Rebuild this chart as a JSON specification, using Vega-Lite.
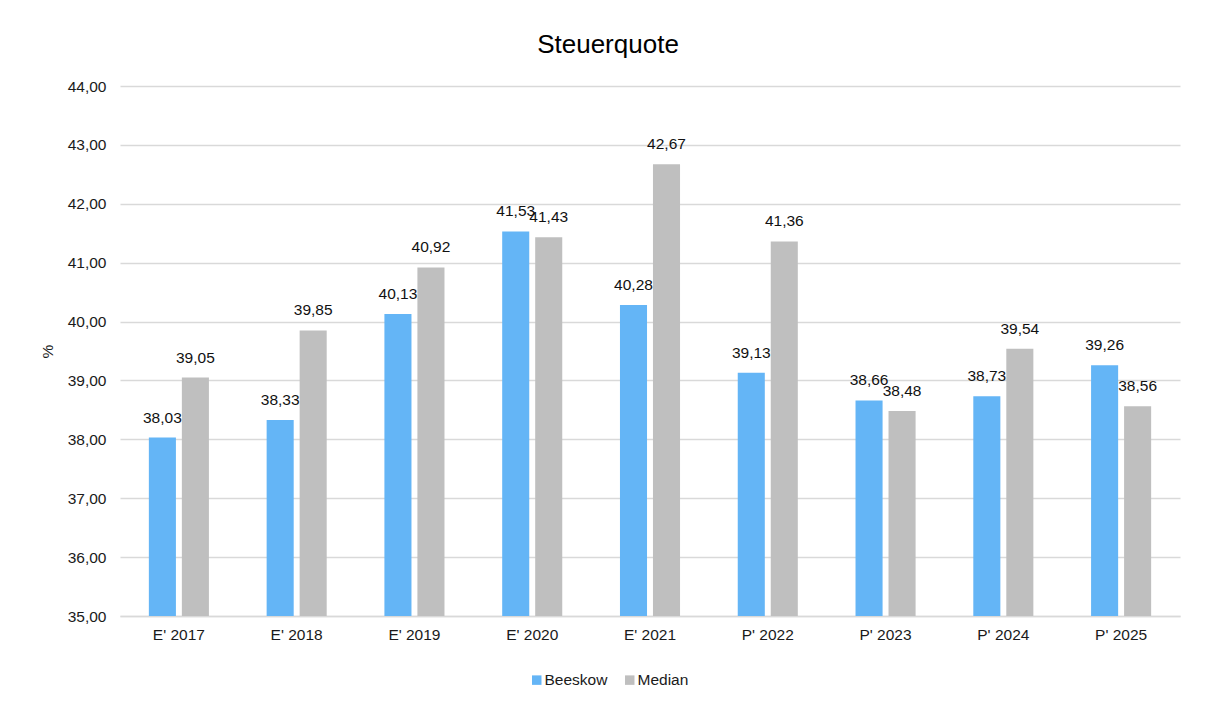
{
  "$schema": "https://vega.github.io/schema/vega-lite/v6.json",
  "width": 1060,
  "height": 530,
  "autosize": {"type": "none"},
  "padding": {"left": 120, "top": 86, "right": 25, "bottom": 90},
  "background": "white",
  "title": {
    "text": "Steuerquote",
    "fontSize": 26,
    "font": "Liberation Sans",
    "fontWeight": "normal",
    "color": "#000000",
    "anchor": "middle",
    "dx": -42,
    "offset": 21
  },
  "data": {
    "values": [
      {"jahr": "E' 2017", "reihe": "Beeskow", "wert": 38.03},
      {"jahr": "E' 2017", "reihe": "Median", "wert": 39.05},
      {"jahr": "E' 2018", "reihe": "Beeskow", "wert": 38.33},
      {"jahr": "E' 2018", "reihe": "Median", "wert": 39.85},
      {"jahr": "E' 2019", "reihe": "Beeskow", "wert": 40.13},
      {"jahr": "E' 2019", "reihe": "Median", "wert": 40.92},
      {"jahr": "E' 2020", "reihe": "Beeskow", "wert": 41.53},
      {"jahr": "E' 2020", "reihe": "Median", "wert": 41.43},
      {"jahr": "E' 2021", "reihe": "Beeskow", "wert": 40.28},
      {"jahr": "E' 2021", "reihe": "Median", "wert": 42.67},
      {"jahr": "P' 2022", "reihe": "Beeskow", "wert": 39.13},
      {"jahr": "P' 2022", "reihe": "Median", "wert": 41.36},
      {"jahr": "P' 2023", "reihe": "Beeskow", "wert": 38.66},
      {"jahr": "P' 2023", "reihe": "Median", "wert": 38.48},
      {"jahr": "P' 2024", "reihe": "Beeskow", "wert": 38.73},
      {"jahr": "P' 2024", "reihe": "Median", "wert": 39.54},
      {"jahr": "P' 2025", "reihe": "Beeskow", "wert": 39.26},
      {"jahr": "P' 2025", "reihe": "Median", "wert": 38.56}
    ]
  },
  "encoding": {
    "x": {
      "field": "jahr",
      "type": "nominal",
      "sort": null,
      "scale": {"paddingInner": 0.49, "paddingOuter": 0.245},
      "axis": {
        "title": null,
        "labelAngle": 0,
        "ticks": false,
        "domain": true,
        "domainColor": "#d9d9d9",
        "domainWidth": 1.5,
        "labelPadding": 11,
        "labelFontSize": 15.5,
        "labelFont": "Liberation Sans",
        "labelColor": "#1a1a1a"
      }
    },
    "xOffset": {
      "field": "reihe",
      "type": "nominal",
      "scale": {"paddingInner": 0.18, "paddingOuter": 0}
    },
    "y": {
      "field": "wert",
      "type": "quantitative",
      "scale": {"domain": [35, 44], "zero": false, "nice": false},
      "axis": {
        "title": "%",
        "titleFont": "Liberation Sans",
        "titleFontSize": 15.5,
        "titleFontWeight": "normal",
        "titleColor": "#1a1a1a",
        "titlePadding": 12,
        "values": [35, 36, 37, 38, 39, 40, 41, 42, 43, 44],
        "format": ".2f",
        "domain": false,
        "ticks": false,
        "labelPadding": 14,
        "labelFontSize": 15.5,
        "labelFont": "Liberation Sans",
        "labelColor": "#1a1a1a",
        "gridColor": "#d9d9d9",
        "gridWidth": 1.5
      }
    }
  },
  "layer": [
    {
      "mark": {"type": "bar"},
      "encoding": {
        "y2": {"datum": 35},
        "color": {
          "field": "reihe",
          "type": "nominal",
          "scale": {"domain": ["Beeskow", "Median"], "range": ["#64b5f6", "#bfbfbf"]},
          "legend": {
            "title": null,
            "orient": "none",
            "direction": "horizontal",
            "legendX": 409,
            "legendY": 586,
            "symbolType": "square",
            "symbolSize": 90,
            "symbolStrokeWidth": 0,
            "labelFont": "Liberation Sans",
            "labelFontSize": 15.5,
            "labelColor": "#1a1a1a",
            "labelOffset": 0,
            "columnPadding": 14
          }
        }
      }
    },
    {
      "mark": {
        "type": "text",
        "baseline": "bottom",
        "dy": -12,
        "font": "Liberation Sans",
        "fontSize": 15.5,
        "color": "#111111"
      },
      "encoding": {
        "text": {"field": "wert", "type": "quantitative", "format": ".2f"}
      }
    }
  ],
  "config": {
    "locale": {
      "number": {
        "decimal": ",",
        "thousands": ".",
        "grouping": [3],
        "currency": ["", " €"]
      }
    },
    "view": {"stroke": null}
  }
}
